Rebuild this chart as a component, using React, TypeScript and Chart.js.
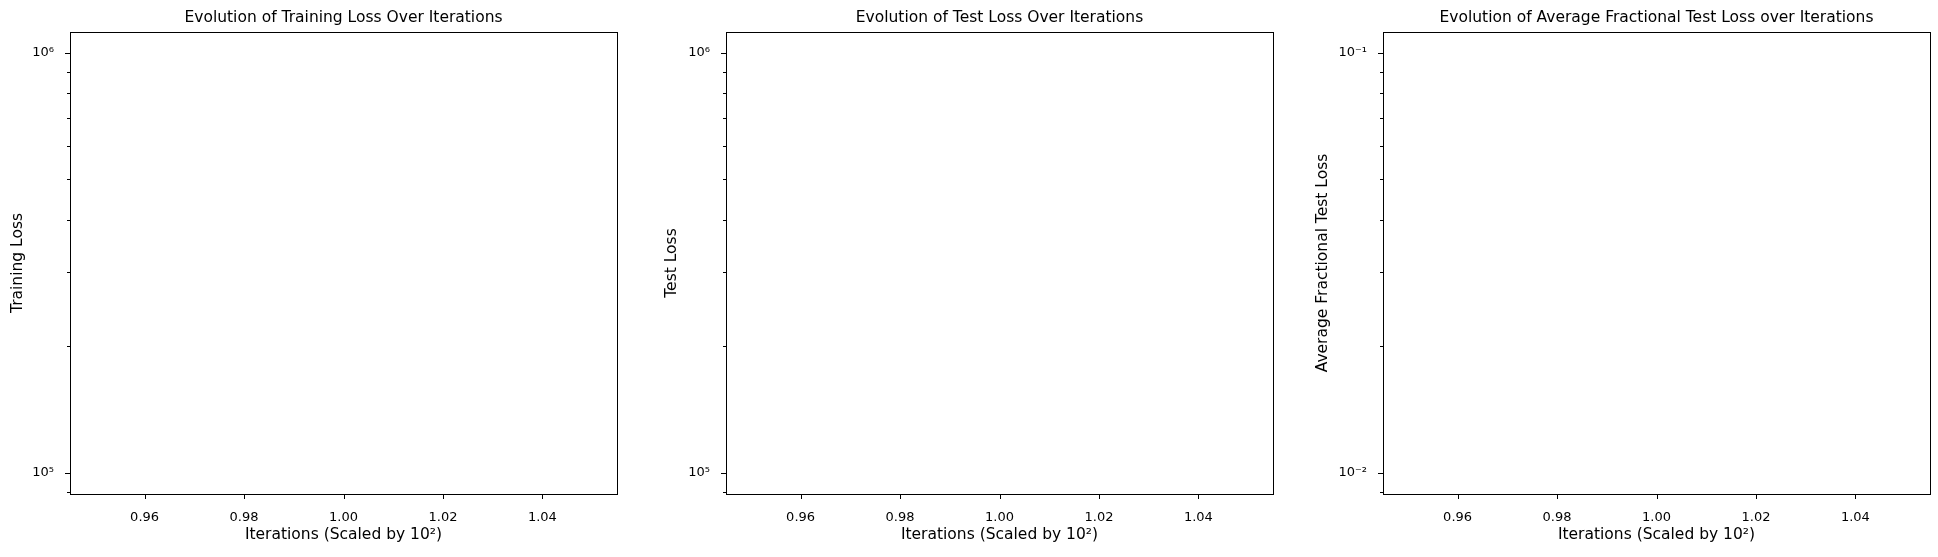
import { useEffect, useRef } from 'react';
import { Chart, registerables } from 'chart.js';
import type { Plugin } from 'chart.js';

Chart.register(...registerables);

// The reference panels are empty: nothing was logged before plotting.
const iterations: number[] = [];
const trainLoss: number[] = [];
const testLoss: number[] = [];
const fracTestLoss: number[] = [];

const xTicks = [0.96, 0.98, 1.0, 1.02, 1.04];
const lossTicks = [9e4, 1e5, 2e5, 3e5, 4e5, 5e5, 6e5, 7e5, 8e5, 9e5, 1e6];
const fracTicks = [0.009, 0.01, 0.02, 0.03, 0.04, 0.05, 0.06, 0.07, 0.08, 0.09, 0.1];

const FONT = '"DejaVu Sans", sans-serif';
const AXES_W = 547;
const LEFT_GUTTER = 70;
const TOP = 32;
const BOTTOM_GUTTER = 63;
const H = 557;

const SUP: Record<string, string> = { '-': '⁻', '0': '⁰', '1': '¹', '2': '²', '3': '³', '4': '⁴', '5': '⁵', '6': '⁶', '7': '⁷', '8': '⁸', '9': '⁹' };
const decadeLabel = (v: number) => {
  const e = Math.round(Math.log10(v));
  if (Math.abs(Math.log10(v) - e) > 1e-9) return '';
  return '10' + String(e).split('').map((c) => SUP[c]).join('');
};

type PanelProps = {
  left: number;
  title: string;
  yLabel: string;
  yLabelOffset: number;
  values: number[];
  yMin: number;
  yMax: number;
  yTicks: number[];
};

function Panel({ left, title, yLabel, yLabelOffset, values, yMin, yMax, yTicks }: PanelProps) {
  const ref = useRef<HTMLCanvasElement>(null);

  useEffect(() => {
    const canvas = ref.current;
    if (!canvas) return;

    const frame: Plugin<'line'> = {
      id: 'frame',
      afterDraw(chart) {
        const { ctx, chartArea: a } = chart;
        const ys = chart.scales.y;
        const xs = chart.scales.x;
        ctx.save();
        ctx.strokeStyle = '#000';
        ctx.lineWidth = 1;
        ctx.strokeRect(Math.round(a.left) + 0.5, Math.round(a.top) + 0.5, Math.round(a.width), Math.round(a.height));
        ctx.beginPath();
        for (const v of yTicks) {
          const y = Math.round(ys.getPixelForValue(v)) + 0.5;
          const len = decadeLabel(v) ? 5 : 3;
          ctx.moveTo(a.left, y);
          ctx.lineTo(a.left - len, y);
        }
        for (const v of xTicks) {
          const x = Math.round(xs.getPixelForValue(v)) + 0.5;
          ctx.moveTo(x, a.bottom);
          ctx.lineTo(x, a.bottom + 5);
        }
        ctx.stroke();
        ctx.fillStyle = '#000';
        ctx.textAlign = 'center';
        ctx.textBaseline = 'middle';
        ctx.font = `15.5px ${FONT}`;
        ctx.fillText(title, (a.left + a.right) / 2, 18);
        ctx.fillText('Iterations (Scaled by 10²)', (a.left + a.right) / 2, 535);
        ctx.translate(a.left - yLabelOffset, (a.top + a.bottom) / 2);
        ctx.rotate(-Math.PI / 2);
        ctx.fillText(yLabel, 0, 0);
        ctx.restore();
      },
    };

    const chart = new Chart(canvas, {
      type: 'line',
      data: {
        labels: iterations,
        datasets: [{ data: values, borderColor: '#1f77b4', pointRadius: 0 }],
      },
      options: {
        animation: false,
        responsive: false,
        layout: { padding: { top: TOP, right: 10, left: 0, bottom: 0 } },
        plugins: { legend: { display: false }, tooltip: { enabled: false } },
        scales: {
          x: {
            type: 'linear',
            min: 0.945,
            max: 1.055,
            grid: { display: false },
            border: { display: false },
            afterBuildTicks: (s) => { s.ticks = xTicks.map((value) => ({ value })); },
            afterFit: (s) => { s.height = BOTTOM_GUTTER; },
            ticks: {
              padding: 8,
              color: '#000',
              font: { family: FONT, size: 13 },
              callback: (v) => Number(v).toFixed(2),
              maxRotation: 0,
            },
          },
          y: {
            type: 'logarithmic',
            min: yMin,
            max: yMax,
            grid: { display: false },
            border: { display: false },
            afterBuildTicks: (s) => { s.ticks = yTicks.map((value) => ({ value })); },
            afterFit: (s) => { s.width = LEFT_GUTTER; },
            ticks: {
              padding: 8,
              color: '#000',
              autoSkip: false,
              font: { family: FONT, size: 13 },
              callback: (v) => decadeLabel(Number(v)),
            },
          },
        },
      },
      plugins: [frame],
    });
    return () => chart.destroy();
  }, [title, yLabel, yLabelOffset, values, yMin, yMax, yTicks]);

  return (
    <canvas
      ref={ref}
      width={LEFT_GUTTER + AXES_W + 10}
      height={H}
      style={{ position: 'absolute', left: left - LEFT_GUTTER, top: 0 }}
    />
  );
}

export default function App() {
  return (
    <div style={{ position: 'absolute', left: 0, top: 0, width: 1938, height: H, background: '#fff', overflow: 'hidden' }}>
      <Panel left={70} title="Evolution of Training Loss Over Iterations" yLabel="Training Loss"
        yLabelOffset={52} values={trainLoss} yMin={89125} yMax={1.12e6} yTicks={lossTicks} />
      <Panel left={726} title="Evolution of Test Loss Over Iterations" yLabel="Test Loss"
        yLabelOffset={54} values={testLoss} yMin={89125} yMax={1.12e6} yTicks={lossTicks} />
      <Panel left={1383} title="Evolution of Average Fractional Test Loss over Iterations" yLabel="Average Fractional Test Loss"
        yLabelOffset={60} values={fracTestLoss} yMin={0.0089125} yMax={0.112} yTicks={fracTicks} />
    </div>
  );
}
